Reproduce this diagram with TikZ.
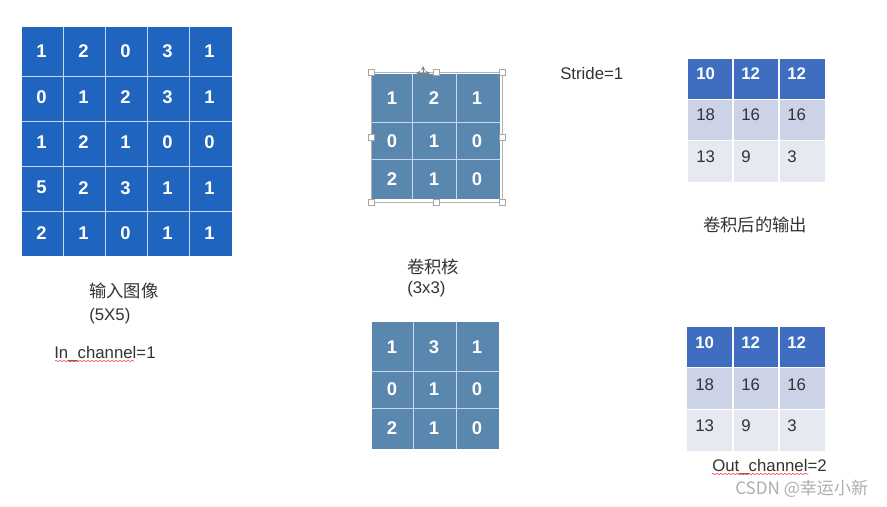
\documentclass[tikz,border=0pt]{standalone}
\usepackage{fontspec}
\setmainfont{Liberation Sans}
\newfontfamily\cjk{Noto Sans CJK SC}
\usepackage{tikz}
\usetikzlibrary{decorations.pathmorphing}
\definecolor{inblue}{HTML}{1F64BE}
\definecolor{kerblue}{HTML}{5A87AE}
\definecolor{headblue}{HTML}{3F6DC0}
\definecolor{rowmid}{HTML}{CCD3E7}
\definecolor{rowlow}{HTML}{E6E8F2}
\definecolor{numgray}{HTML}{333333}

\begin{document}
\begin{tikzpicture}[>=stealth,x=0.75pt,y=-0.75pt,
  gridline/.style={white!75!inblue,line width=0.6pt},
  num/.style={text=white,inner sep=0pt,font=\fontsize{13.8}{16}\selectfont\bfseries},
  outnum/.style={anchor=base west,inner sep=0pt,text=numgray,font=\fontsize{12.6}{15}\selectfont},
  headnum/.style={outnum,text=white,font=\fontsize{12.6}{15}\selectfont\bfseries},
  label/.style={anchor=base west,inner sep=0pt,text=numgray,font=\fontsize{12.6}{15}\selectfont},
  zh/.style={anchor=west,inner sep=0pt,text=numgray,font=\cjk\fontsize{13}{15}\selectfont},
  squiggle/.style={red!80,line width=0.4pt,decorate,decoration={snake,amplitude=0.6pt,segment length=3pt}},
  handle/.style={draw=gray!70,fill=white,line width=0.4pt,minimum size=4.5pt,inner sep=0pt}]
  \useasboundingbox (0,0) rectangle (887,506);

  % input image 5x5
  \fill[inblue] (22,27) rectangle (232,256);
  \foreach \x in {63,105,147,189} \draw[gridline] (\x,27) -- (\x,256);
  \foreach \y in {76,121,166,211} \draw[gridline] (22,\y) -- (232,\y);
  \foreach \row [count=\i] in {{1,2,0,3,1},{0,1,2,3,1},{1,2,1,0,0},{5,2,3,1,1},{2,1,0,1,1}}
    \foreach \v [count=\j] in \row
      \node[num] (in-\i-\j) at ({41.5+42*(\j-1)},{51.5+45.4*(\i-1)}) {\v};
  \node[zh] (intitle) at (89,291) {输入图像};
  \node[label] (insize) at (89,320) {(5X5)};
  \node[label] (inch) at (54,358) {In\_channel=1};
  \draw[squiggle] (55,361) -- (134,361);

  % first kernel, still selected
  \fill[kerblue] (371,74) rectangle (500,199);
  \foreach \x in {412,456} \draw[gridline] (\x,74) -- (\x,199);
  \foreach \y in {122,159} \draw[gridline] (371,\y) -- (500,\y);
  \foreach \y/\a/\b/\c [count=\i] in {98/1/2/1,141/0/1/0,179/2/1/0} {
    \node[num] (ka-\i-1) at (392,\y) {\a};
    \node[num] (ka-\i-2) at (434,\y) {\b};
    \node[num] (ka-\i-3) at (477,\y) {\c};
  }
  \draw[gray!60,line width=0.4pt] (371,72) rectangle (502,202);
  \foreach \x/\y [count=\k] in {371/72,436/72,502/72,371/137,502/137,371/202,436/202,502/202}
    \node[handle] (h\k) at (\x,\y) {};
  \draw[gray,<->,line width=0.5pt] (416,73) -- (430,73);
  \draw[gray,<->,line width=0.5pt] (423,66) -- (423,80);
  \node[zh] (kertitle) at (407,267) {卷积核};
  \node[label] (kersize) at (407,293) {(3x3)};

  % second kernel
  \fill[kerblue] (372,322) rectangle (499,449);
  \foreach \x in {413,456} \draw[gridline] (\x,322) -- (\x,449);
  \foreach \y in {371,408} \draw[gridline] (372,\y) -- (499,\y);
  \foreach \y/\a/\b/\c [count=\i] in {347/1/3/1,389/0/1/0,428/2/1/0} {
    \node[num] (kb-\i-1) at (392,\y) {\a};
    \node[num] (kb-\i-2) at (434,\y) {\b};
    \node[num] (kb-\i-3) at (477,\y) {\c};
  }

  \node[label] (stride) at (560,80) {Stride=1};

  % first output map
  \fill[headblue] (688,59) rectangle (825,99);
  \fill[rowmid] (688,100) rectangle (825,140);
  \fill[rowlow] (688,141) rectangle (825,182);
  \foreach \x in {733,779} \draw[white,line width=1.2pt] (\x,59) -- (\x,182);
  \foreach \x/\v [count=\j] in {696/10,741/12,787/12} \node[headnum] (oa-1-\j) at (\x,80) {\v};
  \foreach \x/\v [count=\j] in {696/18,741/16,787/16} \node[outnum] (oa-2-\j) at (\x,121) {\v};
  \foreach \x/\v [count=\j] in {696/13,741/9,787/3} \node[outnum] (oa-3-\j) at (\x,162) {\v};
  \node[zh] (outtitle) at (703,225) {卷积后的输出};

  % second output map
  \fill[headblue] (687,327) rectangle (825,367);
  \fill[rowmid] (687,368) rectangle (825,409);
  \fill[rowlow] (687,410) rectangle (825,451);
  \foreach \x in {733,779} \draw[white,line width=1.2pt] (\x,327) -- (\x,451);
  \foreach \x/\v [count=\j] in {695/10,741/12,787/12} \node[headnum] (ob-1-\j) at (\x,348) {\v};
  \foreach \x/\v [count=\j] in {695/18,741/16,787/16} \node[outnum] (ob-2-\j) at (\x,390) {\v};
  \foreach \x/\v [count=\j] in {695/13,741/9,787/3} \node[outnum] (ob-3-\j) at (\x,431) {\v};
  \node[label] (outch) at (712,471) {Out\_channel=2};
  \draw[squiggle] (712,474) -- (808,474);

  % watermark
  \node[anchor=base west,inner sep=0pt,text=gray!65,font=\cjk\fontsize{12.8}{15}\selectfont] (mark) at (735,494) {CSDN @幸运小新};
\end{tikzpicture}
\end{document}
